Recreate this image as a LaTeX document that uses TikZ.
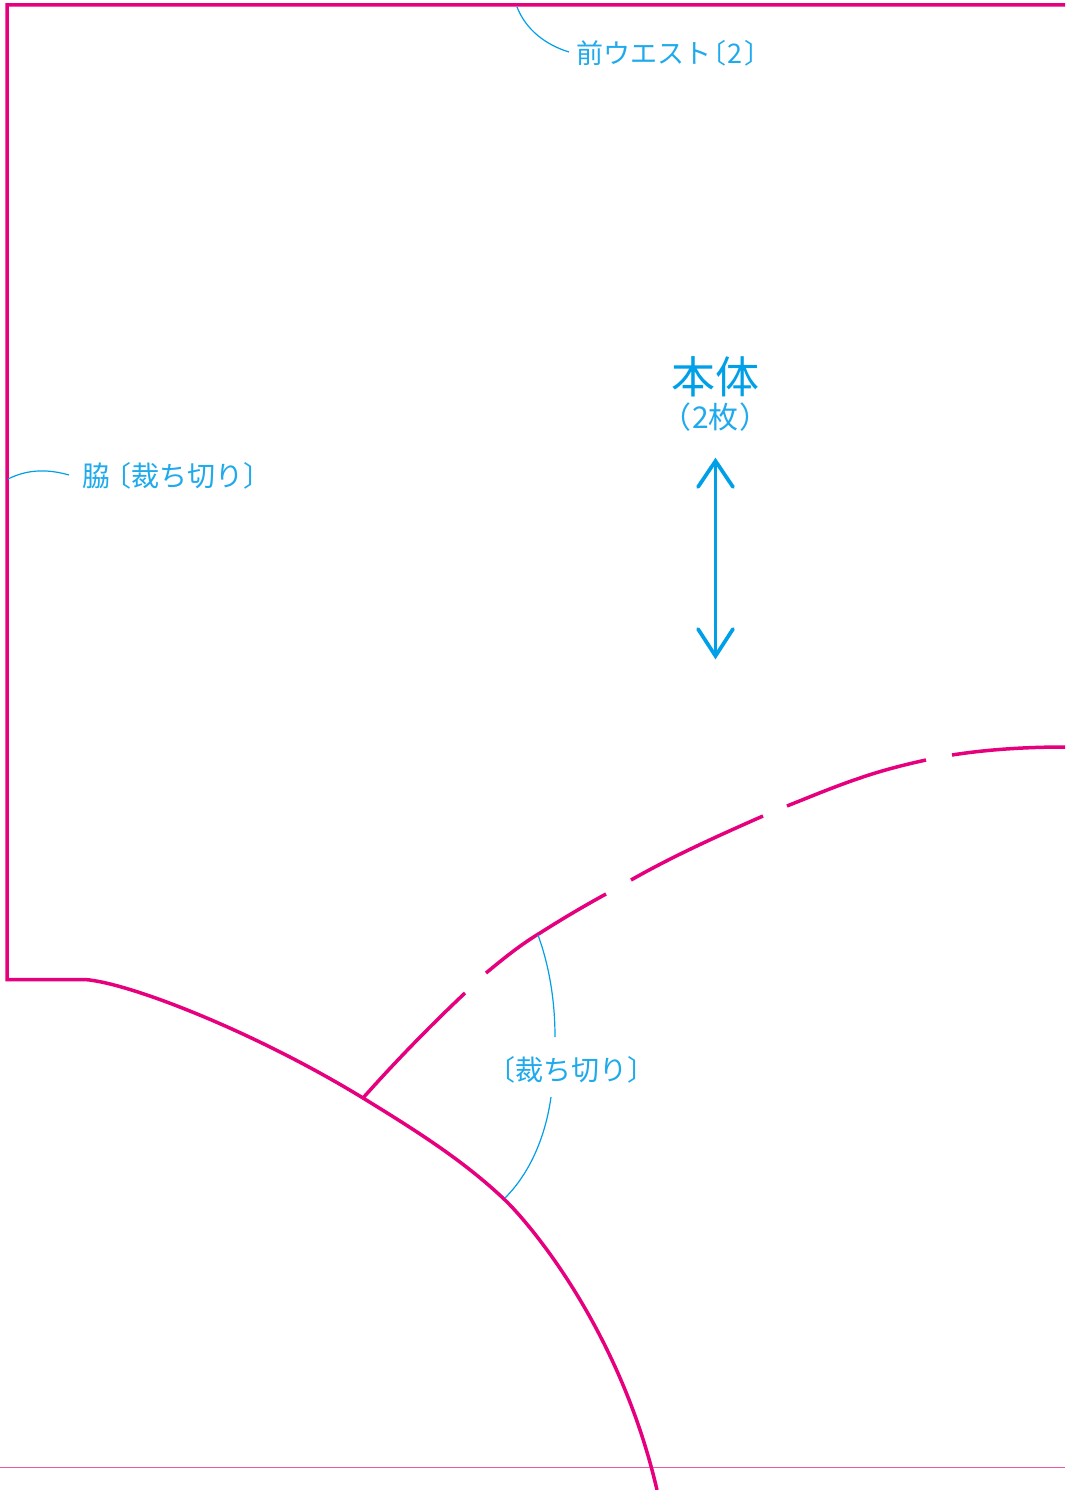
\documentclass[tikz,border=0pt]{standalone}
\usepackage{fontspec}
\setmainfont{Noto Sans CJK JP}
\definecolor{pinkline}{RGB}{230,0,126}
\definecolor{pinkbase}{RGB}{232,90,155}
\definecolor{bluetext}{RGB}{0,160,233}
\definecolor{bluelight}{RGB}{30,170,236}
\tikzset{
  cut/.style={draw=pinkline,line width=3.5pt,line join=miter},
  leader/.style={draw=bluetext,line width=1.2pt},
  grain/.style={draw=bluetext,line width=3.7pt,line cap=round,line join=miter},
  lab/.style={text=bluelight,font=\fontsize{28}{30}\selectfont,inner sep=0pt,anchor=west},
}
\begin{document}
\begin{tikzpicture}[x=1pt,y=-1pt]
\useasboundingbox (0,0) rectangle (1065,1490);
\fill[white] (0,0) rectangle (1065,1490);
% base line
\fill[pinkbase] (0,1466.6) rectangle (1065,1468.2);
% outline
\draw[cut] (1065,5) -- (7,5) -- (7,979.5) -- (85,979.5)
  .. controls (130,983) and (255,1032) .. (363,1098)
  .. controls (415,1130) and (463,1160) .. (505,1200)
  .. controls (530,1224) and (620,1330) .. (657,1490);
% broken curve
\draw[cut] (363,1098) .. controls (395,1062) and (430,1026) .. (465,993);
\draw[cut] (486,973) .. controls (503,959) and (520,945) .. (540,933) .. controls (562,919) and (584,906) .. (606,894);
\draw[cut] (631,880) .. controls (675,855) and (720,835) .. (763,816);
\draw[cut] (787,806) .. controls (812,796) and (836,786) .. (860,778) .. controls (880,771) and (903,765) .. (926,760);
\draw[cut] (952,755) .. controls (990,749) and (1030,747) .. (1065,747);
% labels
\node[lab,font=\fontsize{27}{30}\selectfont] (waist) at (576,53) {前ウエスト\hspace{-12pt}〔\hspace{1pt}2\hspace{2pt}〕};
\node[lab] (side) at (82,476) {脇\hspace{-7pt}〔裁ち切り〕};
\node[lab] (cutl) at (487,1070) {〔裁ち切り〕};
\node[text=bluetext,font=\fontsize{44}{48}\selectfont,inner sep=0pt] (title) at (715.5,377) {本体};
\node[text=bluelight,font=\fontsize{30}{32}\selectfont,inner sep=0pt] (count) at (715.5,417) {（\hspace{1pt}2枚\hspace{1pt}）};
% leaders
\coordinate (wa) at (517,7);
\coordinate (wb) at (569,52);
\draw[leader] (wa) .. controls (526,30) and (546,45) .. (wb);
\coordinate (sa) at (8,479);
\coordinate (sb) at (69,475);
\draw[leader] (sa) .. controls (28,469) and (48,469) .. (sb);
\coordinate (ca) at (538,935);
\coordinate (cb) at (555,1037);
\draw[leader] (ca) .. controls (549,965) and (555,1000) .. (cb);
\coordinate (cc) at (551,1097);
\coordinate (cd) at (505,1198);
\draw[leader] (cc) .. controls (545,1140) and (528,1175) .. (cd);
% grain arrow
\coordinate (gt) at (715.5,461);
\coordinate (gb) at (715.5,656);
\draw[grain] (gt) -- (gb);
\draw[grain] (698,487) -- (gt) -- (733,487);
\draw[grain] (698,629) -- (gb) -- (733,629);
\end{tikzpicture}
\end{document}
